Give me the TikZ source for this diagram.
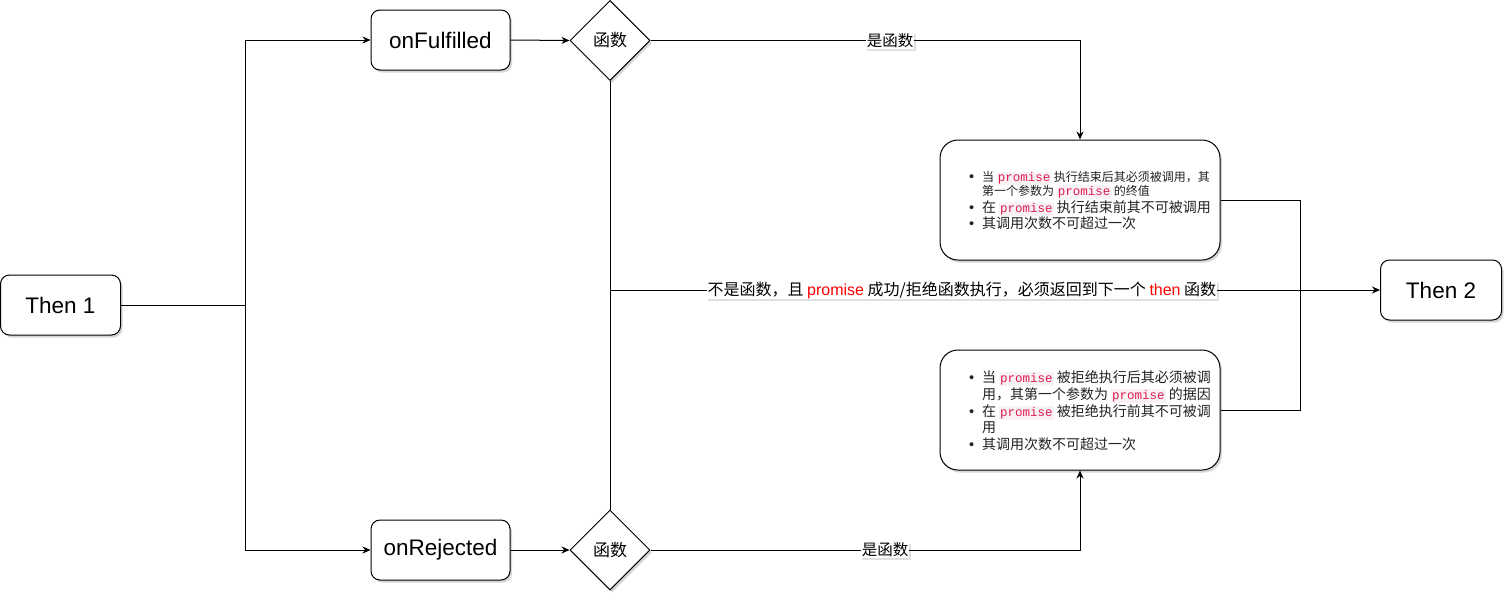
\documentclass[tikz,border=0pt]{standalone}
\usepackage{fontspec}
\setmainfont{Liberation Sans}
\newfontfamily\cjk{Noto Sans CJK SC}
\newfontfamily\codefont{Liberation Mono}
\usetikzlibrary{shapes.geometric,arrows.meta,shadows}
\definecolor{codered}{HTML}{DD1A4F}
\definecolor{codebg}{HTML}{F9F2F4}
\definecolor{boxtxt}{HTML}{222222}
\newcommand\code[1]{{\setlength{\fboxsep}{1pt}\colorbox{codebg}{\codefont\fontsize{12.5}{15}\selectfont\textcolor{codered}{#1}}}}
\newcommand\bul{{\rmfamily\fontsize{14.5}{16}\selectfont\textbullet}}
\newcommand\smtxt[1]{{\fontsize{12}{14}\selectfont #1}}
\begin{document}
\begin{tikzpicture}[x=1pt,y=-1pt,line width=1pt,
  shad/.style={drop shadow={shadow xshift=2pt,shadow yshift=-2.5pt,opacity=0.16,fill=black}},
  rbox/.style={draw,fill=white,rounded corners=9pt,inner sep=0pt,shad,font=\fontsize{22.5}{26}\selectfont},
  dia/.style={diamond,draw,fill=white,aspect=1,minimum width=80pt,minimum height=80pt,inner sep=0pt,shad,font=\cjk\fontsize{17}{19}\selectfont},
  bigbox/.style={draw,fill=white,rounded corners=18pt,minimum width=280pt,minimum height=120pt,inner sep=0pt,shad},
  boxtext/.style={inner sep=0pt,text=boxtxt,font=\cjk\fontsize{14}{16.7}\selectfont},
  lbl/.style={fill=white,inner sep=1pt,drop shadow={shadow xshift=1.5pt,shadow yshift=-2pt,opacity=0.12,fill=black}},
  arr/.style={-{Stealth[length=8pt,width=7pt]}}]
\useasboundingbox (0,0) rectangle (1512,603);

% nodes
\node[rbox,minimum width=120pt,minimum height=60pt] (then1) at (60.5,305) {Then 1};
\node[rbox,minimum width=139pt,minimum height=60pt] (onf) at (440.5,40) {onFulfilled};
\node[rbox,minimum width=139pt,minimum height=60pt] (onr) at (440.5,550) {onRejected};
\node[dia] (d1) at (610,40.5) {函数};
\node[dia] (d2) at (610,550) {函数};
\node[bigbox] (box1) at (1080,200) {};
\node[bigbox] (box2) at (1080,410) {};
\node[rbox,minimum width=121pt,minimum height=60pt] (then2) at (1441,290) {Then 2};

\node[boxtext,anchor=west] (t1) at ([xshift=29pt,yshift=-2pt]box1.west) {%
\begin{tabular}{@{}l@{\hspace{8pt}}l@{}}
\bul & \smtxt{当 \code{promise} 执行结束后其必须被调用，其}\\[-3.4pt]
 & \smtxt{第一个参数为 \code{promise} 的终值}\\
\bul & 在 \code{promise} 执行结束前其不可被调用\\
\bul & 其调用次数不可超过一次
\end{tabular}};
\node[boxtext,anchor=west] (t2) at ([xshift=29pt,yshift=-2.5pt]box2.west) {%
\begin{tabular}{@{}l@{\hspace{8pt}}l@{}}
\bul & 当 \code{promise} 被拒绝执行后其必须被调\\
 & 用，其第一个参数为 \code{promise} 的据因\\
\bul & 在 \code{promise} 被拒绝执行前其不可被调\\
 & 用\\
\bul & 其调用次数不可超过一次
\end{tabular}};

% junction points
\coordinate (s) at (245,305);
\coordinate (m) at (610,290);
\coordinate (m2) at (1300,290);

% connectors
\draw (then1.east) -- (s);
\draw[arr] (s) |- (onf.west);
\draw[arr] (s) |- (onr.west);
\draw[arr] (onf.east) -- (d1.west);
\draw[arr] (onr.east) -- (d2.west);
\draw[arr] (d1.east) -| node[lbl,pos=0.279,font=\cjk\fontsize{15.5}{18}\selectfont] (l1) {是函数} (box1.north);
\draw[arr] (d2.east) -| node[lbl,pos=0.273,font=\cjk\fontsize{15.5}{18}\selectfont] (l2) {是函数} (box2.south);
\draw (d1.south) -- (d2.north);
\draw (box1.east) -| (m2);
\draw (box2.east) -| (m2);
\draw[arr] (m) -- node[lbl,pos=0.457,font=\fontsize{16}{19}\selectfont] (lm) {{\cjk 不是函数，且 }\textcolor{red}{promise}{\cjk{} 成功/拒绝函数执行，必须返回到下一个 }\textcolor{red}{then}{\cjk{} 函数}} (then2.west);
\end{tikzpicture}
\end{document}
